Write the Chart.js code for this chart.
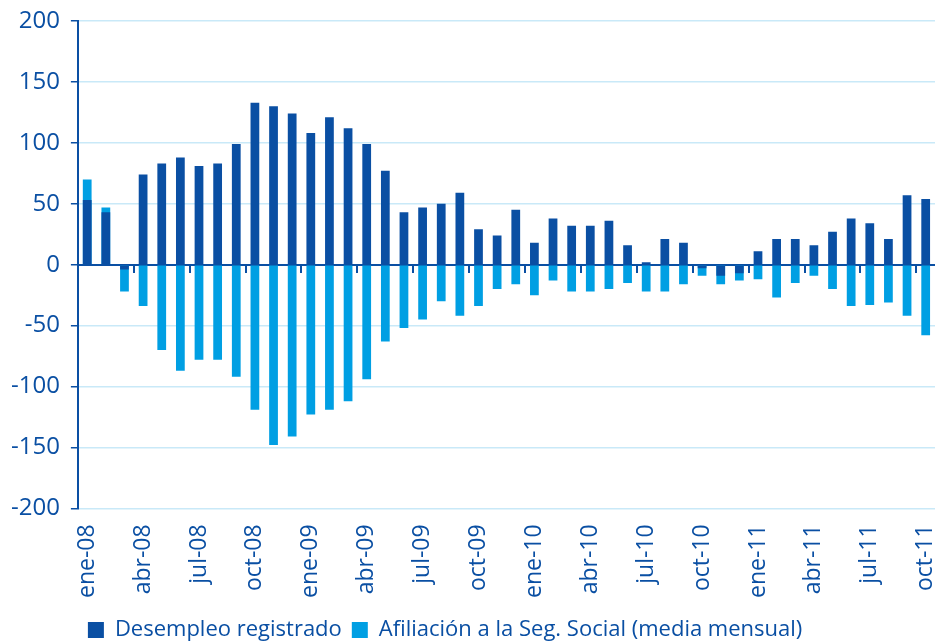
<!DOCTYPE html>
<html lang="es">
<head>
<meta charset="utf-8">
<script src="https://cdn.jsdelivr.net/npm/chart.js@4.4.1/dist/chart.umd.min.js"></script>
<style>
    html, body { margin: 0; padding: 0; background: #ffffff; }
    #contenedor { width: 935px; height: 641px; }
</style>
</head>
<body>
<div id="contenedor"><canvas id="chartEmpleo"></canvas></div>
<script>
// Meses (ene-08 a oct-11)
const meses = [
    'ene-08', 'feb-08', 'mar-08', 'abr-08', 'may-08', 'jun-08', 'jul-08', 'ago-08', 'sep-08', 'oct-08', 'nov-08', 'dic-08',
    'ene-09', 'feb-09', 'mar-09', 'abr-09', 'may-09', 'jun-09', 'jul-09', 'ago-09', 'sep-09', 'oct-09', 'nov-09', 'dic-09',
    'ene-10', 'feb-10', 'mar-10', 'abr-10', 'may-10', 'jun-10', 'jul-10', 'ago-10', 'sep-10', 'oct-10', 'nov-10', 'dic-10',
    'ene-11', 'feb-11', 'mar-11', 'abr-11', 'may-11', 'jun-11', 'jul-11', 'ago-11', 'sep-11', 'oct-11'
];

// Desempleo registrado (miles)
const desempleo = [
    53, 43, -4, 74, 83, 88, 81, 83, 99, 133, 130, 124,
    108, 121, 112, 99, 77, 43, 47, 50, 59, 29, 24, 45,
    18, 38, 32, 32, 36, 16, 2, 21, 18, -3, -9, -7,
    11, 21, 21, 16, 27, 38, 34, 21, 57, 54
];

// Afiliación a la Seg. Social, media mensual (miles)
const afiliacion = [
    70, 47, -22, -34, -70, -87, -78, -78, -92, -119, -148, -141,
    -123, -119, -112, -94, -63, -52, -45, -30, -42, -34, -20, -16,
    -25, -13, -22, -22, -20, -15, -22, -22, -16, -9, -16, -13,
    -12, -27, -15, -9, -20, -34, -33, -31, -42, -58
];

const ticksY = [-200, -150, -100, -50, 0, 50, 100, 150, 200];

const azulOscuro = '#0a4fa3';
const azulClaro = '#009fe3';
const azulRejilla = '#c9e9f8';
const familia = "'Open Sans', sans-serif";

const ctx = document.getElementById('chartEmpleo').getContext('2d');
new Chart(ctx, {
    type: 'bar',
    data: {
        labels: meses,
        datasets: [
            {
                label: 'Desempleo registrado',
                data: desempleo,
                backgroundColor: azulOscuro,
                borderWidth: 0
            },
            {
                label: 'Afiliación a la Seg. Social (media mensual)',
                data: afiliacion,
                backgroundColor: azulClaro,
                borderWidth: 0
            }
        ]
    },
    options: {
        responsive: true,
        maintainAspectRatio: false,
        animation: false,
        layout: { padding: { left: 0, top: 0, right: 0, bottom: -10 } },
        datasets: {
            bar: { categoryPercentage: 1, barPercentage: 0.47 }
        },
        plugins: {
            tooltip: { enabled: false },
            legend: {
                position: 'bottom',
                align: 'start',
                fullSize: false,
                labels: {
                    boxWidth: 16,
                    boxHeight: 16,
                    padding: 10,
                    color: azulOscuro,
                    font: { family: familia, size: 22 }
                }
            }
        },
        scales: {
            x: {
                stacked: true,
                offset: true,
                grid: { display: false, drawTicks: false },
                border: { display: false },
                ticks: {
                    autoSkip: false,
                    minRotation: 90,
                    maxRotation: 90,
                    padding: 16,
                    color: azulOscuro,
                    font: { family: familia, size: 23 },
                    callback: (valor, i) => i % 3 === 0 ? meses[i] : ''
                },
                // sin margen lateral extra
                afterFit: (eje) => {
                    eje.paddingLeft = 0;
                    eje.paddingRight = 0;
                    eje.height -= 5;
                }
            },
            xCero: {
                type: 'category',
                axis: 'x',
                position: { y: 0 },
                offset: true,
                grid: {
                    offset: true,
                    drawOnChartArea: false,
                    tickLength: 7,
                    lineWidth: 2,
                    tickColor: (c) => (c.index > 0 && c.index % 3 === 0) ? azulOscuro : 'rgba(0,0,0,0)'
                },
                border: { color: azulOscuro, width: 2 },
                ticks: { display: false }
            },
            y: {
                min: -200,
                max: 200,
                afterBuildTicks: (eje) => { eje.ticks = ticksY.map(v => ({ value: v })); },
                afterFit: (eje) => { eje.paddingTop = 21; },
                grid: {
                    color: azulRejilla,
                    lineWidth: 1.5,
                    tickColor: azulOscuro,
                    tickLength: 7
                },
                border: { color: azulOscuro, width: 2 },
                ticks: {
                    padding: 11,
                    color: azulOscuro,
                    font: { family: familia, size: 24 }
                }
            }
        }
    }
});
</script>
</body>
</html>
